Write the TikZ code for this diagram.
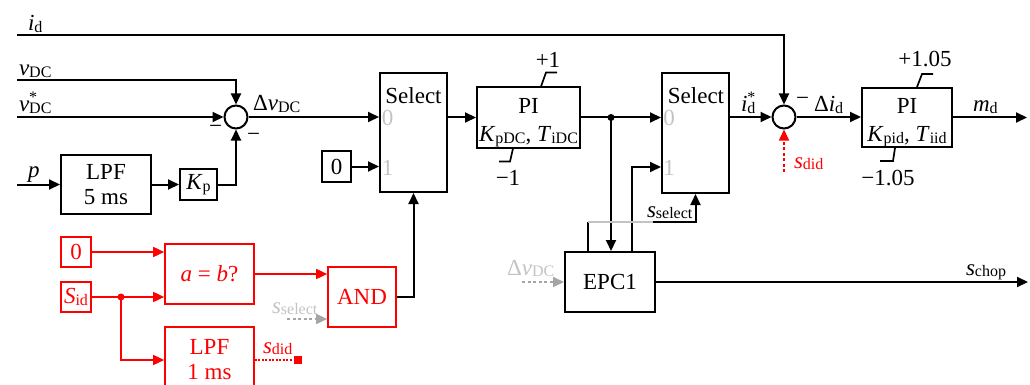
\documentclass[tikz,border=0pt]{standalone}
\usepackage{fontspec}
\setmainfont{Liberation Serif}
\usetikzlibrary{arrows.meta}
\definecolor{lg}{RGB}{195,195,195}
\definecolor{ag}{RGB}{165,165,165}
\newcommand\sbs[1]{\raisebox{-1.5pt}{\fontsize{16}{16}\selectfont #1}}
\newcommand\stsb[2]{#1\rlap{\raisebox{9pt}{\fontsize{16}{16}\selectfont *}}\sbs{#2}}
\begin{document}
\begin{tikzpicture}[x=1pt,y=-1pt,
  font=\fontsize{23}{25}\selectfont,
  line width=2pt,
  blk/.style={draw, inner sep=0pt, line width=2pt},
  rblk/.style={draw=red, text=red, inner sep=0pt, line width=1.7pt},
  sumc/.style={draw, circle, minimum size=23pt, inner sep=0pt, line width=2pt},
  lab/.style={anchor=base west, inner sep=0pt},
  arr/.style={-{Triangle[length=11pt,width=10pt]}},
  rarr/.style={red, line width=1.7pt, -{Triangle[length=11pt,width=10pt]}},
  lim/.style={line width=1.7pt}]
\useasboundingbox (0,0) rectangle (1030,385);

% ---- blocks ----
\node[sumc] (s1) at (236,117) {};
\node[blk, minimum width=90pt, minimum height=59pt, align=center] (lpf5) at (106,184.5) {LPF\\5 ms};
\node[blk, minimum width=37pt, minimum height=31pt] (kp) at (198.5,184.5) {\textit{K}\sbs{p}};
\node[blk, minimum width=67pt, minimum height=119pt] (sel1) at (413.5,132.5) {};
\node[blk, minimum width=29pt, minimum height=31pt] (z1) at (336.5,166.5) {0};
\node[blk, minimum width=103pt, minimum height=60pt] (pi1) at (528.5,117.5) {};
\node[blk, minimum width=67pt, minimum height=120pt] (sel2) at (695.5,133) {};
\node[sumc] (s2) at (784,117) {};
\node[blk, minimum width=90pt, minimum height=59pt] (pi2) at (907,117.5) {};
\node[blk, minimum width=90pt, minimum height=60pt] (epc) at (610,282) {EPC1};

\node[rblk, minimum width=30pt, minimum height=30pt] (rz) at (76,252) {0};
\node[rblk, minimum width=30pt, minimum height=30pt] (rs) at (76,297) {\textit{S}\sbs{id}};
\node[rblk, minimum width=89pt, minimum height=60pt] (aeqb) at (209.5,274) {\textit{a} = \textit{b}?};
\node[rblk, minimum width=68pt, minimum height=60pt] (andb) at (362,297) {AND};
\node[rblk, minimum width=89pt, minimum height=66pt, align=center] (lpf1) at (209.5,360) {LPF\\1 ms};
\node[fill=red, minimum size=8pt, inner sep=0pt] (sq) at (298,360) {};

% ---- texts inside blocks ----
\node[anchor=base] (sel1t) at (413.5,103) {Select};
\node[text=lg] (sel1a) at (387.5,118) {0};
\node[text=lg] (sel1b) at (387.5,168) {1};
\node[anchor=base] (sel2t) at (696,103) {Select};
\node[text=lg] (sel2a) at (669,118) {0};
\node[text=lg] (sel2b) at (669,168) {1};
\node (pi1t) at (528.5,105.5) {PI};
\node[anchor=base] (pi1p) at (528.5,142) {\textit{K}\sbs{pDC}, \textit{T}\sbs{iDC}};
\node (pi2t) at (907,105.5) {PI};
\node[anchor=base] (pi2p) at (907,142) {\textit{K}\sbs{pid}, \textit{T}\sbs{iid}};

% ---- limiters ----
\draw[lim] ([xshift=12.5pt]pi1.north) -- ++(5,-14) -- ++(11,0);
\draw[lim] ([xshift=-15.5pt]pi1.south) -- ++(-3,13) -- ++(-11,0);
\draw[lim] ([xshift=10pt]pi2.north) -- ++(5,-13) -- ++(11,0);
\draw[lim] ([xshift=-12pt]pi2.south) -- ++(-2,13) -- ++(-13,0);
\node (p1) at (548,60) {+1};
\node (m1) at (508,178) {−1};
\node (p105) at (925,59) {+1.05};
\node (m105) at (888,178) {−1.05};

% ---- coordinates ----
\coordinate (idS) at (17,35);
\coordinate (vS) at (17,80);
\coordinate (vrS) at (17,117);
\coordinate (pS) at (17,184.5);
\coordinate (jx) at (611,0);
\coordinate (e2x) at (632,0);
\coordinate (c167) at (0,167);
\coordinate (ssx) at (588,0);
\coordinate (ssy) at (0,222);
\coordinate (ssm) at (653,222);
\coordinate (mdE) at (1027,117.5);
\coordinate (didS) at (784,172);
\coordinate (chE) at (1028,0);
\coordinate (dvS) at (522,282);
\coordinate (rj) at (121,297);
\coordinate (gsS) at (287,319);

% ---- black connectors ----
\draw[arr] (idS) -| (s2.north);
\draw[arr] (vS) -| (s1.north);
\draw[arr] (vrS) -- (s1.west);
\draw[arr] (pS) -- (lpf5.west);
\draw[arr] (lpf5.east) -- (kp.west);
\draw[arr] (kp.east) -| (s1.south);
\draw[arr] (s1.east) -- (s1.east -| sel1.west);
\draw[arr] (z1.east) -- (z1.east -| sel1.west);
\draw[arr] (sel1.east |- pi1.west) -- (pi1.west);
\draw[arr] (pi1.east) -- (pi1.east -| sel2.west);
\coordinate (j1) at (pi1.east -| jx);
\fill (j1) circle (3.5pt);
\draw[arr] (j1) -- (j1 |- epc.north);
\draw[arr] (epc.north -| e2x) |- (sel2.west |- c167);
\draw (epc.north -| ssx) -- (ssx |- ssy);
\draw[lg, line width=1.7pt] (ssx |- ssy) -- (ssm);
\draw[arr] (ssm) -| (sel2.south);
\draw[arr] (sel2.east |- s2.west) -- (s2.west);
\draw[arr] (s2.east) -- (s2.east -| pi2.west);
\draw[arr] (pi2.east) -- (mdE);
\draw[arr] (epc.east) -- (epc.east -| chE);
\draw[arr] (andb.east) -| (sel1.south);

% ---- gray / red connectors ----
\draw[red, line width=1.7pt, dash pattern=on 3pt off 2.5pt, arr] (didS) -- (s2.south);
\draw[ag, line width=1.7pt, dash pattern=on 3pt off 2.5pt, arr] (dvS) -- (epc.west);
\draw[ag, line width=1.7pt, dash pattern=on 3pt off 2.5pt, arr] (gsS) -- (gsS -| andb.west);
\draw[rarr] (rz.east) -- (rz.east -| aeqb.west);
\draw[rarr] (rs.east) -- (rs.east -| aeqb.west);
\fill[red] (rj) circle (3.5pt);
\draw[rarr] (rj) |- (lpf1.west);
\draw[rarr] (aeqb.east) -- (aeqb.east -| andb.west);
\draw[red, line width=1.7pt, dash pattern=on 2pt off 1.5pt] (lpf1.east) -- (sq.west);

% ---- labels ----
\node[lab] (lid) at (27,31) {\textit{i}\sbs{d}};
\node[lab] (lvdc) at (18,76) {\textit{v}\sbs{DC}};
\node[lab] (lvr) at (18,112) {\stsb{\textit{v}}{DC}};
\node[lab] (lp) at (27,177) {\textit{p}};
\node[lab] (ldv) at (252,111) {Δ\textit{v}\sbs{DC}};
\node[lab] (mn1) at (208,134) {−};
\node[lab] (mn2) at (246,142) {−};
\node[lab] (mn3) at (795,106) {−};
\node[lab] (lidr) at (740,112) {\stsb{\textit{i}}{d}};
\node[lab] (ldi) at (813,112) {Δ\textit{i}\sbs{d}};
\node[lab] (lmd) at (972,112) {\textit{m}\sbs{d}};
\node[lab, text=red] (lsd) at (793,168) {\textit{s}\sbs{did}};
\node[lab] (lss) at (646,217) {\textit{s}\sbs{select}};
\node[lab, text=lg] (ldv2) at (506,275) {Δ\textit{v}\sbs{DC}};
\node[lab] (lsc) at (965,275) {\textit{s}\sbs{chop}};
\node[lab, text=lg] (lss2) at (271,313) {\textit{s}\sbs{select}};
\node[lab, text=red] (lsd2) at (262,353) {\textit{s}\sbs{did}};
\end{tikzpicture}
\end{document}
